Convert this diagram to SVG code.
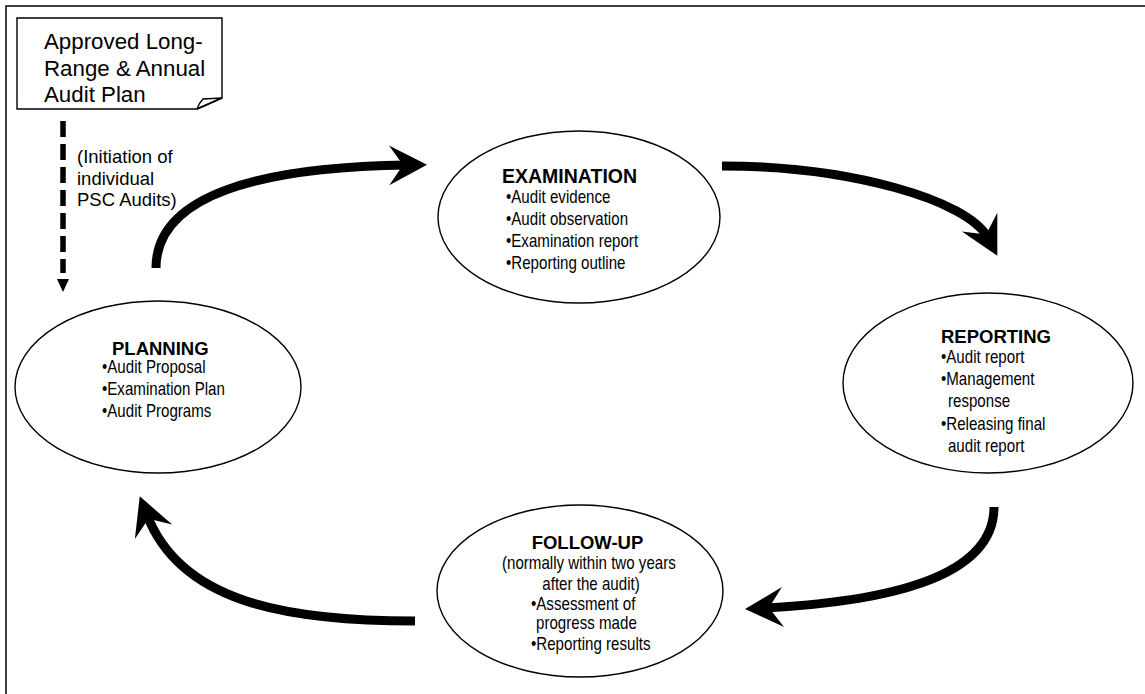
<svg xmlns="http://www.w3.org/2000/svg" width="1145" height="694" viewBox="0 0 1145 694">
<style>
  .frame{fill:none;stroke:#000;stroke-width:1.5}
  .node{fill:#fff;stroke:#000;stroke-width:1.4}
  .title{font-family:"Liberation Sans",Arial,sans-serif;font-weight:bold;fill:#000}
  .body{font-family:"Liberation Sans",Arial,sans-serif;font-size:18px;fill:#000}
  .plain{font-family:"Liberation Sans",Arial,sans-serif;fill:#000}
  .flow{fill:none;stroke:#000;stroke-width:9;marker-end:url(#bigArrow)}
  .dash{fill:none;stroke:#000;stroke-width:5.5;stroke-dasharray:16 7;marker-end:url(#smallArrow)}
</style>
<defs>
  <marker id="bigArrow" markerUnits="userSpaceOnUse" markerWidth="44" markerHeight="44" viewBox="0 -22 44 44" refX="18" refY="0" orient="auto">
    <path d="M0,-20 L38,0 L0,20 L14,0 Z" fill="#000"/>
  </marker>
  <marker id="smallArrow" markerUnits="userSpaceOnUse" markerWidth="20" markerHeight="14" viewBox="-6 -7 20 14" refX="-6" refY="0" orient="auto">
    <path d="M0,-6 L13,0 L0,6 Z" fill="#000"/>
  </marker>
</defs>
<rect x="0" y="0" width="1145" height="694" fill="#fff"/>
<path class="frame" d="M6,694 V6 H1145"/>

<g id="note-plan">
  <path class="node" d="M17,18 H222 V98 L197,109 H17 Z"/>
  <path fill="none" stroke="#000" stroke-width="1.4" d="M197,109 Q199,103 203,99 L222,98 M197,109 L222,98"/>
  <text class="plain" font-size="22.3">
    <tspan x="44" y="48.5">Approved Long-</tspan>
    <tspan x="44" y="75.5">Range &amp; Annual</tspan>
    <tspan x="44" y="102">Audit Plan</tspan>
  </text>
</g>

<g id="connectors">
  <line class="dash" x1="63" y1="121" x2="63" y2="273"/>
  <text class="plain" font-size="18.5">
    <tspan x="77" y="163">(Initiation of</tspan>
    <tspan x="77" y="185">individual</tspan>
    <tspan x="77" y="206">PSC Audits)</tspan>
  </text>
  <path class="flow" d="M156,268 C156,195 260,167 407,165"/>
  <path class="flow" d="M722,166 C850,166 968,200 988,238"/>
  <path class="flow" d="M994,507 C994,580 880,602 765,608"/>
  <path class="flow" d="M415,621 C280,621 180,600 147,515"/>
</g>

<g id="examination">
  <ellipse class="node" cx="579" cy="217" rx="141" ry="86"/>
  <text class="title" x="502" y="183" font-size="19.5">EXAMINATION</text>
  <text class="body" transform="translate(506,0) scale(0.84,1)">
    <tspan x="0" y="203">•Audit evidence</tspan>
    <tspan x="0" y="225">•Audit observation</tspan>
    <tspan x="0" y="247">•Examination report</tspan>
    <tspan x="0" y="269">•Reporting outline</tspan>
  </text>
</g>

<g id="reporting">
  <ellipse class="node" cx="988" cy="383" rx="145" ry="90"/>
  <text class="title" x="941" y="343" font-size="18.5">REPORTING</text>
  <text class="body" transform="translate(941,0) scale(0.84,1)">
    <tspan x="0" y="363.5">•Audit report</tspan>
    <tspan x="0" y="385.5">•Management</tspan>
    <tspan x="8.3" y="407.5">response</tspan>
    <tspan x="0" y="430">•Releasing final</tspan>
    <tspan x="8.3" y="452">audit report</tspan>
  </text>
</g>

<g id="follow-up">
  <ellipse class="node" cx="580" cy="591" rx="143" ry="86"/>
  <text class="title" x="587.5" y="549" font-size="18.5" text-anchor="middle">FOLLOW-UP</text>
  <text class="body" text-anchor="middle" transform="translate(591,0) scale(0.84,1)">
    <tspan x="0" y="569">(normally within two years</tspan>
    <tspan x="0" y="590">after the audit)</tspan>
  </text>
  <text class="body" transform="translate(531,0) scale(0.84,1)">
    <tspan x="0" y="610">•Assessment of</tspan>
    <tspan x="6" y="629">progress made</tspan>
    <tspan x="0" y="650.5">•Reporting results</tspan>
  </text>
</g>

<g id="planning">
  <ellipse class="node" cx="158" cy="387" rx="143" ry="86"/>
  <text class="title" x="112" y="355" font-size="18.5">PLANNING</text>
  <text class="body" transform="translate(102,0) scale(0.84,1)">
    <tspan x="0" y="373">•Audit Proposal</tspan>
    <tspan x="0" y="395">•Examination Plan</tspan>
    <tspan x="0" y="417">•Audit Programs</tspan>
  </text>
</g>
</svg>
